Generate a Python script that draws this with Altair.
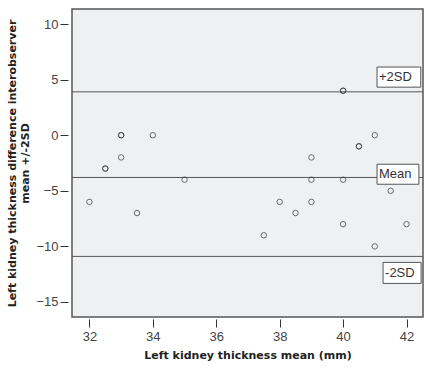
import altair as alt
import pandas as pd

# Bland-Altman data (duplicates appear twice)
mean_mm = [32, 32.5, 32.5, 33, 33, 33, 33.5, 34, 35, 37.5, 38, 38.5, 39, 39, 39,
           40, 40, 40, 40, 40.5, 40.5, 41, 41, 41.5, 42]
diff_mm = [-6, -3, -3, 0, 0, -2, -7, 0, -4, -9, -6, -7, -2, -4, -6,
           4, 4, -4, -8, -1, -1, 0, -10, -5, -8]

line_names = ["+2SD", "Mean", "-2SD"]
line_values = [3.9, -3.8, -10.9]
box_x0 = [41.07, 41.07, 41.26]
box_x1 = [42.45, 42.39, 42.46]
box_y0 = [4.32, -4.41, -13.33]
box_y1 = [6.13, -2.61, -11.44]

pts = pd.DataFrame({"m": mean_mm, "d": diff_mm})
lines = pd.DataFrame({"name": line_names, "v": line_values,
                      "x0": box_x0, "x1": box_x1, "y0": box_y0, "y1": box_y1})
lines["yc"] = (lines["y0"] + lines["y1"]) / 2

FONT = "Liberation Sans"
TFONT = "DejaVu Sans"
xs = alt.Scale(domain=[31.45, 42.52], nice=False, zero=False)
ys = alt.Scale(domain=[-16.35, 11.35], nice=False, zero=False)

points = alt.Chart(pts).mark_point(shape="circle", filled=False, size=30,
                                   color="#333333", strokeWidth=1).encode(
    x=alt.X("m:Q", scale=xs,
            axis=alt.Axis(title="Left kidney thickness mean (mm)", values=[32, 34, 36, 38, 40, 42],
                          grid=False, domain=False, offset=2, tickSize=8, tickColor="#333",
                          labelPadding=3, labelFontSize=13, labelColor="#444",
                          titleFontSize=11, titleFontWeight="bold", titlePadding=6,
                          titleColor="#222", labelFont=FONT, titleFont=TFONT)),
    y=alt.Y("d:Q", scale=ys,
            axis=alt.Axis(title=["Left kidney thickness difference interobserver", "mean +/-2SD"],
                          values=[10, 5, 0, -5, -10, -15],
                          grid=False, domain=False, offset=4, tickSize=8, tickColor="#333",
                          labelPadding=2, labelFontSize=13, labelColor="#444",
                          titleFontSize=11, titleFontWeight="bold", titlePadding=5,
                          titleColor="#222", labelFont=FONT, titleFont=TFONT)),
)

rules = alt.Chart(lines).mark_rule(color="#555555", strokeWidth=1).encode(
    y=alt.Y("v:Q", scale=ys)
)

boxes = alt.Chart(lines).mark_rect(fill="white", stroke="#555555", strokeWidth=1).encode(
    x=alt.X("x0:Q", scale=xs), x2="x1:Q",
    y=alt.Y("y0:Q", scale=ys), y2="y1:Q",
)

texts = alt.Chart(lines).mark_text(align="left", baseline="middle", dx=2, fontSize=13,
                                   font=FONT, color="#333").encode(
    x=alt.X("x0:Q", scale=xs),
    y=alt.Y("yc:Q", scale=ys),
    text="name:N",
)

chart = alt.layer(rules, points, boxes, texts).properties(
    width=351, height=308,
    autosize=alt.AutoSizeParams(type="none"),
    padding={"left": 72, "top": 9, "right": 3, "bottom": 51},
    background="white",
).configure_view(fill="#eff0f2", stroke="#555555", strokeWidth=1.5)

chart.save("out.html", embed_options={"renderer": "svg", "actions": False})
